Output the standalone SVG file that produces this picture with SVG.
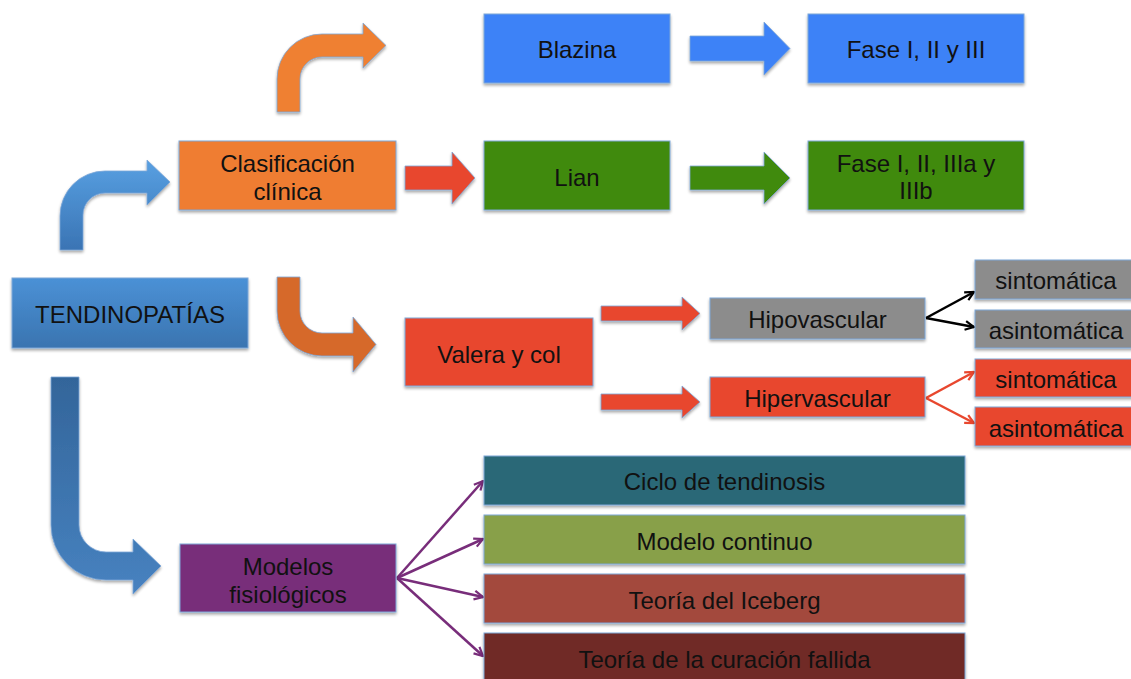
<svg xmlns="http://www.w3.org/2000/svg" width="1131" height="679" viewBox="0 0 1131 679">
  <defs>
    <filter id="shadow" x="-10%" y="-10%" width="120%" height="130%">
      <feGaussianBlur in="SourceAlpha" stdDeviation="1.5"/>
      <feOffset dx="0" dy="2" result="b"/>
      <feComponentTransfer><feFuncA type="linear" slope="0.35"/></feComponentTransfer>
      <feMerge><feMergeNode/><feMergeNode in="SourceGraphic"/></feMerge>
    </filter>
    <linearGradient id="gTendino" x1="0" y1="0" x2="0" y2="1">
      <stop offset="0" stop-color="#4b91d6"/>
      <stop offset="1" stop-color="#3a74b0"/>
    </linearGradient>
    <linearGradient id="gBlueUp" x1="0" y1="0" x2="0" y2="1">
      <stop offset="0" stop-color="#58a0e2"/>
      <stop offset="1" stop-color="#3a74b4"/>
    </linearGradient>
    <linearGradient id="gBlueDown" x1="0" y1="0" x2="0" y2="1">
      <stop offset="0" stop-color="#33659a"/>
      <stop offset="1" stop-color="#4782c0"/>
    </linearGradient>
    <marker id="mBlack" viewBox="0 0 10 10" refX="9" refY="5" markerWidth="11" markerHeight="11" markerUnits="userSpaceOnUse" orient="auto">
      <path d="M1,1 L9,5 L1,9" fill="none" stroke="#000" stroke-width="2"/>
    </marker>
    <marker id="mRed" viewBox="0 0 10 10" refX="9" refY="5" markerWidth="11" markerHeight="11" markerUnits="userSpaceOnUse" orient="auto">
      <path d="M1,1 L9,5 L1,9" fill="none" stroke="#e8472e" stroke-width="2"/>
    </marker>
    <marker id="mPurple" viewBox="0 0 10 10" refX="9" refY="5" markerWidth="11" markerHeight="11" markerUnits="userSpaceOnUse" orient="auto">
      <path d="M1,1 L9,5 L1,9" fill="none" stroke="#782d7a" stroke-width="2"/>
    </marker>
  </defs>
  <style>
    .box { stroke: #7ea7d8; stroke-width: 1; filter: url(#shadow); }
    .lbl { font-family: "Liberation Sans", Arial, sans-serif; font-size: 24px; fill: #111; text-anchor: middle; dominant-baseline: central; }
    .blk { stroke: #7ea7d8; stroke-width: 0.8; filter: url(#shadow); }
    .thin { fill: none; stroke-width: 2.5; }
  </style>
  <rect width="1131" height="679" fill="#ffffff"/>

  <!-- connectors -->
  <g id="connectors">
    <!-- TENDINOPATÍAS -> Clasificación clínica -->
    <path class="blk" fill="url(#gBlueUp)" d="M60,250 L60,216 A45,45 0 0 1 105,171 L147,171 L147,160 L170,182 L147,205 L147,193 L105,193 A22,22 0 0 0 83,215 L83,250 Z"/>
    <!-- Clasificación clínica -> Blazina -->
    <path class="blk" fill="#ef8030" d="M277,112 L277,79 A45,45 0 0 1 322,34 L363,34 L363,23 L386,45.5 L363,68 L363,57 L322,57 A22,22 0 0 0 300,79 L300,112 Z"/>
    <!-- Clasificación clínica -> Valera y col -->
    <path class="blk" fill="#d6692a" d="M277,277 L277,311 A45,45 0 0 0 322,356 L353,356 L353,372 L376,344.5 L353,317 L353,333 L322,333 A22,22 0 0 1 300,311 L300,277 Z"/>
    <!-- TENDINOPATÍAS -> Modelos fisiológicos -->
    <path class="blk" fill="url(#gBlueDown)" d="M51,377 L51,525 A55,55 0 0 0 106,580 L133,580 L133,594 L161,566 L133,539 L133,552 L106,552 A27,27 0 0 1 79,525 L79,377 Z"/>
    <!-- Blazina -> Fase I, II y III -->
    <path class="blk" fill="#3d82f7" d="M690,36 L764,36 L764,22 L790,48.5 L764,75 L764,61 L690,61 Z"/>
    <!-- Clasificación clínica -> Lian -->
    <path class="blk" fill="#e8472e" d="M405,166 L452,166 L452,152 L475,178 L452,204 L452,190 L405,190 Z"/>
    <!-- Lian -> Fase I, II, IIIa y IIIb -->
    <path class="blk" fill="#418a0a" d="M690,166 L764,166 L764,152 L790,178 L764,204 L764,190 L690,190 Z"/>
    <!-- Valera y col -> Hipovascular / Hipervascular -->
    <path class="blk" fill="#e8472e" d="M601,306 L682,306 L682,297 L700,313.5 L682,330 L682,321 L601,321 Z"/>
    <path class="blk" fill="#e8472e" d="M601,394 L682,394 L682,386 L700,402 L682,418 L682,410 L601,410 Z"/>
    <!-- Hipovascular -> sintomática / asintomática -->
    <line class="thin" stroke="#000" x1="926" y1="318" x2="974" y2="292" marker-end="url(#mBlack)"/>
    <line class="thin" stroke="#000" x1="926" y1="318" x2="974" y2="327" marker-end="url(#mBlack)"/>
    <!-- Hipervascular -> sintomática / asintomática -->
    <line class="thin" stroke="#e8472e" x1="926" y1="398" x2="974" y2="372" marker-end="url(#mRed)"/>
    <line class="thin" stroke="#e8472e" x1="926" y1="398" x2="974" y2="423" marker-end="url(#mRed)"/>
    <!-- Modelos fisiológicos -> models -->
    <line class="thin" stroke="#782d7a" x1="397" y1="578" x2="483" y2="481" marker-end="url(#mPurple)"/>
    <line class="thin" stroke="#782d7a" x1="397" y1="578" x2="483" y2="539" marker-end="url(#mPurple)"/>
    <line class="thin" stroke="#782d7a" x1="397" y1="578" x2="483" y2="597" marker-end="url(#mPurple)"/>
    <line class="thin" stroke="#782d7a" x1="397" y1="578" x2="483" y2="656" marker-end="url(#mPurple)"/>
  </g>

  <!-- nodes -->
  <g id="tendinopatias">
    <rect class="box" x="12" y="278" width="236" height="70" fill="url(#gTendino)"/>
    <text class="lbl" x="130" y="314">TENDINOPATÍAS</text>
  </g>
  <g id="clasificacion">
    <rect class="box" x="179" y="141" width="217" height="69" fill="#ef7d31"/>
    <text class="lbl" x="287.5" y="163">Clasificación</text>
    <text class="lbl" x="287.5" y="191">clínica</text>
  </g>
  <g id="blazina">
    <rect class="box" x="484" y="14" width="186" height="69" fill="#3d82f7"/>
    <text class="lbl" x="577" y="49">Blazina</text>
  </g>
  <g id="fase-blazina">
    <rect class="box" x="808" y="14" width="216" height="69" fill="#3d82f7"/>
    <text class="lbl" x="916" y="49">Fase I, II y III</text>
  </g>
  <g id="lian">
    <rect class="box" x="484" y="141" width="186" height="69" fill="#418a0a"/>
    <text class="lbl" x="577" y="177">Lian</text>
  </g>
  <g id="fase-lian">
    <rect class="box" x="808" y="141" width="216" height="69" fill="#418a0a"/>
    <text class="lbl" x="916" y="163">Fase I, II, IIIa y</text>
    <text class="lbl" x="916" y="190">IIIb</text>
  </g>
  <g id="valera">
    <rect class="box" x="405" y="318" width="188" height="68" fill="#e8472e"/>
    <text class="lbl" x="499" y="354">Valera y col</text>
  </g>
  <g id="hipovascular">
    <rect class="box" x="710" y="298" width="215" height="41" fill="#8c8c8c"/>
    <text class="lbl" x="817.5" y="319">Hipovascular</text>
  </g>
  <g id="hipervascular">
    <rect class="box" x="710" y="377" width="215" height="40" fill="#e8472e"/>
    <text class="lbl" x="817.5" y="398">Hipervascular</text>
  </g>
  <g id="hipo-sintomatica">
    <rect class="box" x="975" y="260" width="160" height="39" fill="#8c8c8c"/>
    <text class="lbl" x="1056" y="280">sintomática</text>
  </g>
  <g id="hipo-asintomatica">
    <rect class="box" x="975" y="310" width="160" height="38" fill="#8c8c8c"/>
    <text class="lbl" x="1056" y="330">asintomática</text>
  </g>
  <g id="hiper-sintomatica">
    <rect class="box" x="975" y="359" width="160" height="38" fill="#e8472e"/>
    <text class="lbl" x="1056" y="379">sintomática</text>
  </g>
  <g id="hiper-asintomatica">
    <rect class="box" x="975" y="407" width="160" height="39" fill="#e8472e"/>
    <text class="lbl" x="1056" y="428">asintomática</text>
  </g>
  <g id="modelos">
    <rect class="box" x="180" y="544" width="216" height="68" fill="#782d7a"/>
    <text class="lbl" x="288" y="566">Modelos</text>
    <text class="lbl" x="288" y="594">fisiológicos</text>
  </g>
  <g id="ciclo">
    <rect class="box" x="484" y="456" width="481" height="49" fill="#2a6877"/>
    <text class="lbl" x="724.5" y="481">Ciclo de tendinosis</text>
  </g>
  <g id="continuo">
    <rect class="box" x="484" y="515" width="481" height="49" fill="#88a048"/>
    <text class="lbl" x="724.5" y="541">Modelo continuo</text>
  </g>
  <g id="iceberg">
    <rect class="box" x="484" y="574" width="481" height="49" fill="#a3483e"/>
    <text class="lbl" x="724.5" y="600">Teoría del Iceberg</text>
  </g>
  <g id="curacion">
    <rect class="box" x="484" y="633" width="481" height="50" fill="#6f2b25"/>
    <text class="lbl" x="724.5" y="659">Teoría de la curación fallida</text>
  </g>
</svg>
